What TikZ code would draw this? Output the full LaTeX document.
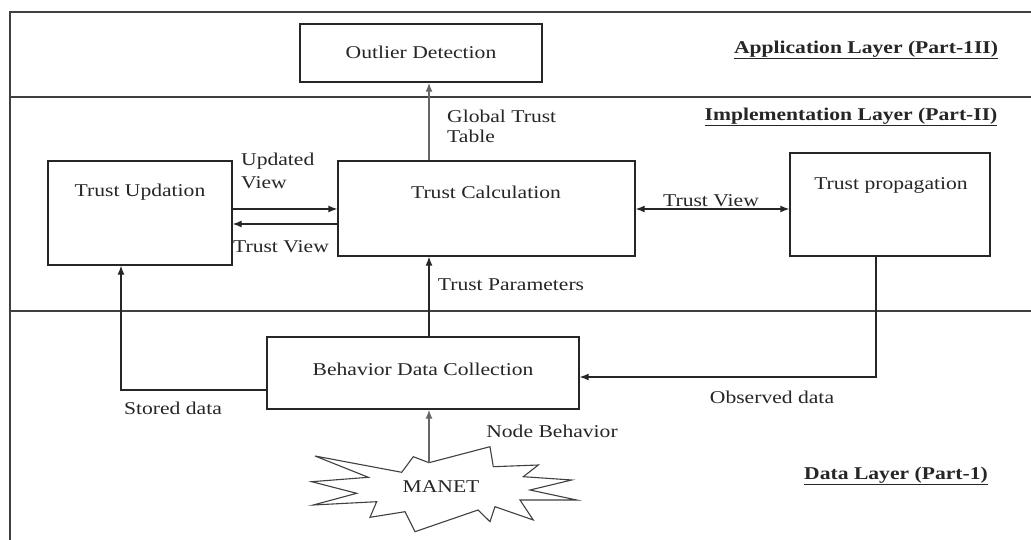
\documentclass[tikz,border=0pt]{standalone}
\usepackage{fontspec}
\setmainfont{Liberation Serif}[FakeStretch=1.2]
\usetikzlibrary{arrows.meta}
\begin{document}
\begin{tikzpicture}[x=1pt,y=-1pt,
  every node/.style={font=\fontsize{18}{20}\selectfont, text=black!85, inner sep=0pt},
  box/.style={draw=black!85, line width=1.3pt, fill=white},
  frameline/.style={draw=black!75, line width=1.6pt},
  arr/.style={draw=black!85, line width=1.3pt, -{Latex[length=9pt,width=7pt]}},
  garr/.style={draw=black!60, line width=1.6pt, -{Latex[length=9pt,width=7pt]}},
  conn/.style={draw=black!85, line width=1.3pt},
  layer/.style={font=\fontsize{18}{20}\selectfont\bfseries}]
\useasboundingbox[fill=white] (0,0) rectangle (1031,540);
% frame
\draw[frameline] (10,540) -- (10,12) -- (1031,12);
\draw[frameline] (10,97) -- (1031,97);
\draw[frameline] (10,311) -- (1031,311);
% boxes
\node[box, minimum width=242pt, minimum height=58pt] (out) at (421,53) {};
\node at (421,52) {Outlier Detection};
\node[box, minimum width=184pt, minimum height=104pt] (upd) at (140,213) {};
\node at (140,192) {Trust Updation};
\node[box, minimum width=297pt, minimum height=95pt] (tc) at (486.5,208.5) {};
\node at (486,192) {Trust Calculation};
\node[box, minimum width=200pt, minimum height=103pt] (prop) at (890,204.5) {};
\node at (891,185) {Trust propagation};
\node[box, minimum width=312pt, minimum height=72pt] (bdc) at (423,373) {};
\node at (423,369) {Behavior Data Collection};
% MANET starburst
\draw[line width=1.1pt, draw=black!75, fill=white]
 (315,456) -- (401.7,472.3) -- (413.3,456.7) -- (429,462.7) -- (490,446.7) -- (493.3,466.7)
 -- (538.3,465) -- (523.3,476.7) -- (571.7,480) -- (530,490) -- (576.7,500) -- (520,500)
 -- (533.3,520) -- (495,506.7) -- (490,521.7) -- (478,510) -- (415,531.7) -- (405,511.7)
 -- (370,517.3) -- (376.7,501.7) -- (313.3,505) -- (356.7,493.3) -- (311.7,481.7)
 -- (368.3,477.3) -- cycle;
\node (manet) at (441,487) {MANET};
\coordinate (mtop) at (429,462.7);
% layer titles
\node[layer] (l3) at (866,50) {\underline{Application Layer (Part-1II)}};
\node[layer] (l2) at (851,117) {\underline{Implementation Layer (Part-II)}};
\node[layer] (l1) at (896,476) {\underline{Data Layer (Part-1)}};
% connectors
\draw[garr] (tc.north -| 429,0) -- (out.south -| 429,0);
\node[anchor=west, align=left] (gtt) at (447,126) {Global Trust\\Table};
\draw[arr] (upd.east |- 0,209) -- (tc.west |- 0,209);
\draw[arr] (tc.west |- 0,224) -- (upd.east |- 0,224);
\node[anchor=west, align=left] (uv) at (241,171) {Updated\\[3pt]View};
\node (tv1) at (281,247) {Trust View};
\draw[arr, {Latex[length=9pt,width=7pt]}-{Latex[length=9pt,width=7pt]}] (tc.east |- 0,209) -- (prop.west |- 0,209);
\node (tv2) at (711,201) {Trust View};
\draw[arr] (bdc.north -| 429,0) -- (tc.south -| 429,0);
\node (tp) at (511,285) {Trust Parameters};
\draw[arr] (bdc.west |- 0,390) -| ([xshift=-19pt]upd.south);
\node (sd) at (173,408) {Stored data};
\draw[arr] ([xshift=-14pt]prop.south) |- (bdc.east |- 0,377);
\node (od) at (772,397) {Observed data};
\draw[garr] (mtop) -- (bdc.south -| mtop);
\node (nb) at (552,431) {Node Behavior};
\end{tikzpicture}
\end{document}
